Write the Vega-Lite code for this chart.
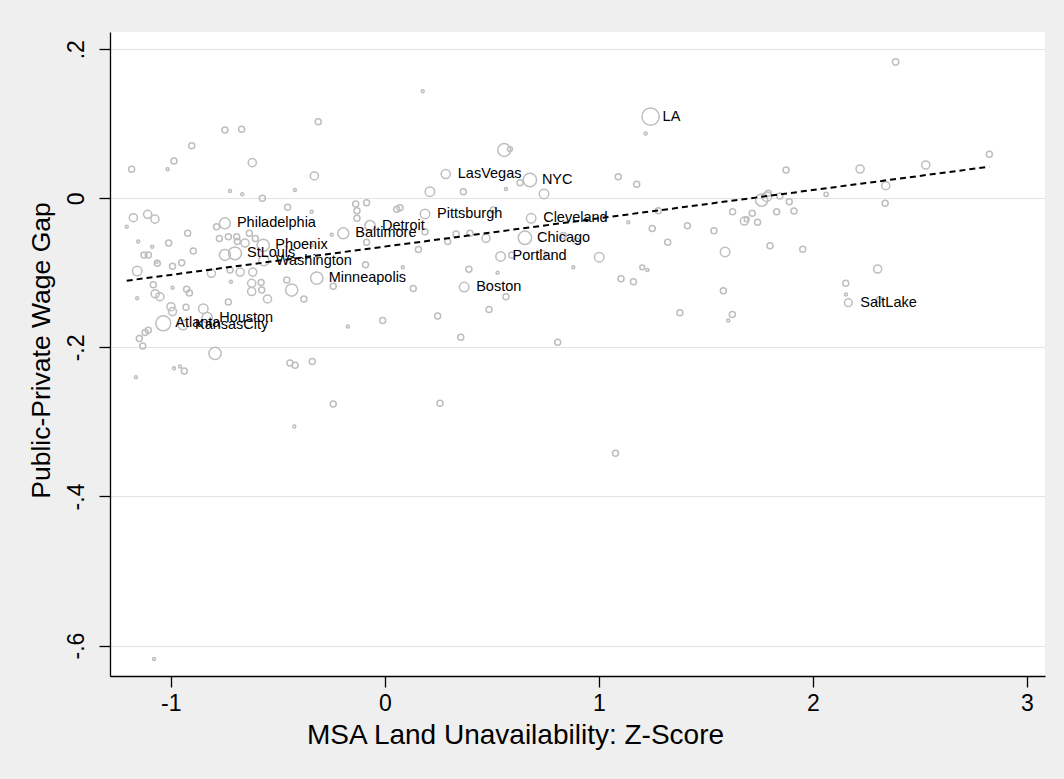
{
 "$schema": "https://vega.github.io/schema/vega-lite/v6.json",
 "width": 935,
 "height": 644,
 "autosize": {"type": "none"},
 "padding": {"left": 110, "top": 32, "right": 19, "bottom": 103},
 "background": "#efefef",
 "config": {"view": {"stroke": null, "fill": "#ffffff"}, "font": "Liberation Sans"},
 "datasets": {
  "msa": [
   {"unavail": 0.177, "gap": 0.1435, "weight": 3},
   {"unavail": -0.311, "gap": 0.1028, "weight": 12},
   {"unavail": 2.387, "gap": 0.183, "weight": 14},
   {"unavail": -0.747, "gap": 0.0916, "weight": 12},
   {"unavail": -0.669, "gap": 0.0925, "weight": 12},
   {"unavail": -0.902, "gap": 0.0706, "weight": 12},
   {"unavail": -0.985, "gap": 0.05, "weight": 12},
   {"unavail": -1.015, "gap": 0.039, "weight": 3},
   {"unavail": -1.183, "gap": 0.039, "weight": 12},
   {"unavail": -0.619, "gap": 0.0478, "weight": 22},
   {"unavail": -0.329, "gap": 0.03, "weight": 22},
   {"unavail": -0.723, "gap": 0.0098, "weight": 3},
   {"unavail": -0.666, "gap": 0.0054, "weight": 3},
   {"unavail": -0.42, "gap": 0.011, "weight": 3},
   {"unavail": -0.572, "gap": 0.0, "weight": 12},
   {"unavail": -0.454, "gap": -0.012, "weight": 12},
   {"unavail": -0.342, "gap": -0.018, "weight": 3},
   {"unavail": -0.136, "gap": -0.0076, "weight": 12},
   {"unavail": -0.085, "gap": -0.0058, "weight": 12},
   {"unavail": -0.13, "gap": -0.0166, "weight": 12},
   {"unavail": -0.13, "gap": -0.0268, "weight": 12},
   {"unavail": 0.056, "gap": -0.0148, "weight": 12},
   {"unavail": 0.071, "gap": -0.0125, "weight": 12},
   {"unavail": 1.219, "gap": 0.087, "weight": 3},
   {"unavail": 0.558, "gap": 0.0648, "weight": 55},
   {"unavail": 0.585, "gap": 0.066, "weight": 8},
   {"unavail": 0.744, "gap": 0.0058, "weight": 30},
   {"unavail": 0.632, "gap": 0.021, "weight": 12},
   {"unavail": 0.566, "gap": 0.0125, "weight": 3},
   {"unavail": 0.367, "gap": 0.0089, "weight": 12},
   {"unavail": 0.211, "gap": 0.0089, "weight": 30},
   {"unavail": 1.091, "gap": 0.029, "weight": 12},
   {"unavail": 1.177, "gap": 0.0188, "weight": 12},
   {"unavail": -1.175, "gap": -0.026, "weight": 22},
   {"unavail": -1.108, "gap": -0.0215, "weight": 22},
   {"unavail": -1.074, "gap": -0.028, "weight": 22},
   {"unavail": -1.206, "gap": -0.038, "weight": 3},
   {"unavail": -0.786, "gap": -0.038, "weight": 12},
   {"unavail": -0.921, "gap": -0.047, "weight": 12},
   {"unavail": -0.633, "gap": -0.047, "weight": 12},
   {"unavail": -0.692, "gap": -0.0515, "weight": 12},
   {"unavail": -0.773, "gap": -0.054, "weight": 12},
   {"unavail": -0.731, "gap": -0.0515, "weight": 12},
   {"unavail": -1.152, "gap": -0.058, "weight": 3},
   {"unavail": -1.087, "gap": -0.065, "weight": 3},
   {"unavail": -1.01, "gap": -0.06, "weight": 12},
   {"unavail": -0.895, "gap": -0.0707, "weight": 12},
   {"unavail": -1.125, "gap": -0.076, "weight": 12},
   {"unavail": -1.105, "gap": -0.076, "weight": 12},
   {"unavail": -0.605, "gap": -0.054, "weight": 12},
   {"unavail": -0.342, "gap": -0.063, "weight": 3},
   {"unavail": -0.085, "gap": -0.059, "weight": 12},
   {"unavail": -1.063, "gap": -0.087, "weight": 12},
   {"unavail": -0.992, "gap": -0.091, "weight": 12},
   {"unavail": -0.949, "gap": -0.0865, "weight": 12},
   {"unavail": -1.157, "gap": -0.0975, "weight": 30},
   {"unavail": -0.81, "gap": -0.1006, "weight": 22},
   {"unavail": -0.723, "gap": -0.096, "weight": 12},
   {"unavail": -0.676, "gap": -0.099, "weight": 22},
   {"unavail": -0.617, "gap": -0.099, "weight": 22},
   {"unavail": -0.241, "gap": -0.118, "weight": 12},
   {"unavail": -0.09, "gap": -0.089, "weight": 12},
   {"unavail": 0.084, "gap": -0.0925, "weight": 3},
   {"unavail": 0.133, "gap": -0.121, "weight": 12},
   {"unavail": -1.082, "gap": -0.116, "weight": 12},
   {"unavail": -1.051, "gap": -0.132, "weight": 22},
   {"unavail": -1.157, "gap": -0.134, "weight": 3},
   {"unavail": -0.992, "gap": -0.12, "weight": 3},
   {"unavail": -0.926, "gap": -0.122, "weight": 12},
   {"unavail": -0.913, "gap": -0.127, "weight": 12},
   {"unavail": -0.719, "gap": -0.112, "weight": 3},
   {"unavail": -0.622, "gap": -0.114, "weight": 22},
   {"unavail": -0.578, "gap": -0.113, "weight": 12},
   {"unavail": -0.575, "gap": -0.123, "weight": 12},
   {"unavail": -0.622, "gap": -0.125, "weight": 22},
   {"unavail": -0.548, "gap": -0.135, "weight": 22},
   {"unavail": -0.435, "gap": -0.123, "weight": 50},
   {"unavail": -0.378, "gap": -0.135, "weight": 12},
   {"unavail": -0.999, "gap": -0.1454, "weight": 22},
   {"unavail": -0.992, "gap": -0.152, "weight": 22},
   {"unavail": -0.929, "gap": -0.146, "weight": 12},
   {"unavail": -0.848, "gap": -0.148, "weight": 30},
   {"unavail": -0.731, "gap": -0.139, "weight": 12},
   {"unavail": -0.01, "gap": -0.164, "weight": 12},
   {"unavail": -0.173, "gap": -0.172, "weight": 3},
   {"unavail": 0.247, "gap": -0.158, "weight": 12},
   {"unavail": -1.105, "gap": -0.177, "weight": 12},
   {"unavail": -1.12, "gap": -0.18, "weight": 12},
   {"unavail": -1.147, "gap": -0.188, "weight": 12},
   {"unavail": -1.131, "gap": -0.198, "weight": 12},
   {"unavail": -0.793, "gap": -0.208, "weight": 50},
   {"unavail": -0.443, "gap": -0.221, "weight": 12},
   {"unavail": -0.419, "gap": -0.224, "weight": 12},
   {"unavail": -0.339, "gap": -0.219, "weight": 12},
   {"unavail": -0.985, "gap": -0.228, "weight": 3},
   {"unavail": -0.957, "gap": -0.2255, "weight": 3},
   {"unavail": -0.937, "gap": -0.2317, "weight": 12},
   {"unavail": -1.163, "gap": -0.24, "weight": 3},
   {"unavail": -0.241, "gap": -0.276, "weight": 12},
   {"unavail": 0.258, "gap": -0.275, "weight": 12},
   {"unavail": -0.423, "gap": -0.306, "weight": 3},
   {"unavail": 1.078, "gap": -0.342, "weight": 12},
   {"unavail": -1.078, "gap": -0.618, "weight": 3},
   {"unavail": 0.507, "gap": -0.0157, "weight": 12},
   {"unavail": 0.333, "gap": -0.048, "weight": 12},
   {"unavail": 0.398, "gap": -0.047, "weight": 12},
   {"unavail": 0.473, "gap": -0.0537, "weight": 22},
   {"unavail": 0.294, "gap": -0.058, "weight": 12},
   {"unavail": 0.157, "gap": -0.0687, "weight": 12},
   {"unavail": 0.188, "gap": -0.045, "weight": 12},
   {"unavail": 0.834, "gap": -0.05, "weight": 12},
   {"unavail": 0.897, "gap": -0.0572, "weight": 12},
   {"unavail": 0.593, "gap": -0.076, "weight": 12},
   {"unavail": 0.733, "gap": -0.076, "weight": 30},
   {"unavail": 1.002, "gap": -0.079, "weight": 30},
   {"unavail": 0.881, "gap": -0.0926, "weight": 3},
   {"unavail": 1.138, "gap": -0.032, "weight": 3},
   {"unavail": 1.25, "gap": -0.0405, "weight": 12},
   {"unavail": 1.278, "gap": -0.0166, "weight": 12},
   {"unavail": 1.414, "gap": -0.0367, "weight": 12},
   {"unavail": 1.322, "gap": -0.059, "weight": 12},
   {"unavail": 0.393, "gap": -0.095, "weight": 12},
   {"unavail": 0.527, "gap": -0.0998, "weight": 3},
   {"unavail": 0.566, "gap": -0.132, "weight": 12},
   {"unavail": 0.487, "gap": -0.149, "weight": 12},
   {"unavail": 1.104, "gap": -0.108, "weight": 12},
   {"unavail": 1.162, "gap": -0.112, "weight": 12},
   {"unavail": 1.203, "gap": -0.0926, "weight": 8},
   {"unavail": 1.227, "gap": -0.0962, "weight": 3},
   {"unavail": 1.379, "gap": -0.1535, "weight": 12},
   {"unavail": 0.355, "gap": -0.1865, "weight": 12},
   {"unavail": 0.808, "gap": -0.193, "weight": 12},
   {"unavail": 1.875, "gap": 0.038, "weight": 12},
   {"unavail": 2.221, "gap": 0.0393, "weight": 22},
   {"unavail": 2.528, "gap": 0.0447, "weight": 22},
   {"unavail": 2.825, "gap": 0.059, "weight": 12},
   {"unavail": 2.341, "gap": 0.0169, "weight": 22},
   {"unavail": 2.338, "gap": -0.0067, "weight": 12},
   {"unavail": 2.062, "gap": 0.0054, "weight": 6},
   {"unavail": 1.761, "gap": -0.0023, "weight": 50},
   {"unavail": 1.785, "gap": 0.0022, "weight": 30},
   {"unavail": 1.792, "gap": 0.0067, "weight": 12},
   {"unavail": 1.846, "gap": 0.0031, "weight": 12},
   {"unavail": 1.89, "gap": -0.0045, "weight": 12},
   {"unavail": 1.912, "gap": -0.017, "weight": 12},
   {"unavail": 1.831, "gap": -0.018, "weight": 12},
   {"unavail": 1.717, "gap": -0.02, "weight": 12},
   {"unavail": 1.625, "gap": -0.018, "weight": 12},
   {"unavail": 1.68, "gap": -0.0305, "weight": 22},
   {"unavail": 1.691, "gap": -0.028, "weight": 8},
   {"unavail": 1.742, "gap": -0.0322, "weight": 12},
   {"unavail": 1.538, "gap": -0.0435, "weight": 12},
   {"unavail": 1.8, "gap": -0.0636, "weight": 12},
   {"unavail": 1.953, "gap": -0.0684, "weight": 12},
   {"unavail": 1.59, "gap": -0.072, "weight": 30},
   {"unavail": 2.303, "gap": -0.0948, "weight": 22},
   {"unavail": 2.154, "gap": -0.114, "weight": 12},
   {"unavail": 2.155, "gap": -0.129, "weight": 3},
   {"unavail": 2.311, "gap": -0.136, "weight": 12},
   {"unavail": 1.582, "gap": -0.124, "weight": 12},
   {"unavail": 1.624, "gap": -0.156, "weight": 12},
   {"unavail": 1.605, "gap": -0.164, "weight": 3},
   {"unavail": -1.066, "gap": -0.085, "weight": 3},
   {"unavail": -1.073, "gap": -0.128, "weight": 22},
   {"unavail": -0.689, "gap": -0.058, "weight": 12},
   {"unavail": -0.653, "gap": -0.06, "weight": 22},
   {"unavail": -0.747, "gap": -0.076, "weight": 40},
   {"unavail": -0.248, "gap": -0.049, "weight": 3},
   {"unavail": -0.458, "gap": -0.1096, "weight": 12},
   {"unavail": 1.242, "gap": 0.1095, "weight": 100, "city": "LA"},
   {"unavail": 0.285, "gap": 0.0326, "weight": 28, "city": "LasVegas"},
   {"unavail": 0.678, "gap": 0.0245, "weight": 60, "city": "NYC"},
   {"unavail": 0.188, "gap": -0.021, "weight": 30, "city": "Pittsburgh"},
   {"unavail": 0.684, "gap": -0.0268, "weight": 30, "city": "Cleveland"},
   {"unavail": 0.655, "gap": -0.0528, "weight": 60, "city": "Chicago"},
   {"unavail": 0.541, "gap": -0.078, "weight": 30, "city": "Portland"},
   {"unavail": 0.371, "gap": -0.119, "weight": 30, "city": "Boston"},
   {"unavail": -0.194, "gap": -0.047, "weight": 40, "city": "Baltimore"},
   {"unavail": -0.069, "gap": -0.0365, "weight": 35, "city": "Detroit"},
   {"unavail": -0.747, "gap": -0.0335, "weight": 40, "city": "Philadelphia"},
   {"unavail": -0.7, "gap": -0.0738, "weight": 55, "city": "StLouis"},
   {"unavail": -0.568, "gap": -0.063, "weight": 50, "city": "Phoenix"},
   {"unavail": -0.565, "gap": -0.0837, "weight": 35, "city": "Washington"},
   {"unavail": -0.318, "gap": -0.107, "weight": 50, "city": "Minneapolis"},
   {"unavail": -1.035, "gap": -0.1677, "weight": 75, "city": "Atlanta"},
   {"unavail": -0.943, "gap": -0.17, "weight": 30, "city": "KansasCity"},
   {"unavail": -0.83, "gap": -0.16, "weight": 35, "city": "Houston"},
   {"unavail": 2.166, "gap": -0.14, "weight": 20, "city": "SaltLake"}
  ],
  "fit": [
   {"unavail": -1.206, "gap": -0.1105},
   {"unavail": 2.825, "gap": 0.0424}
  ]
 },
 "encoding": {
  "x": {
   "field": "unavail", "type": "quantitative",
   "scale": {"domain": [-1.284, 3.085], "nice": false, "zero": false},
   "axis": {
    "values": [-1, 0, 1, 2, 3], "labelExpr": "datum.value + ''", "grid": false,
    "domainColor": "#000000", "domainWidth": 1.3, "tickColor": "#000000", "tickWidth": 1.3, "tickSize": 11,
    "labelFontSize": 23, "labelPadding": 5, "labelColor": "#000000", "labelFont": "Liberation Sans",
    "title": "MSA Land Unavailability: Z-Score", "titleFont": "Liberation Sans", "titleFontSize": 28,
    "titleFontWeight": "normal", "titleColor": "#000000", "titleX": 405, "titleY": 67,
    "titleBaseline": "alphabetic", "titleAlign": "center"
   }
  },
  "y": {
   "field": "gap", "type": "quantitative",
   "scale": {"domain": [-0.6408, 0.2231], "nice": false, "zero": false},
   "axis": {
    "values": [-0.6, -0.4, -0.2, 0, 0.2],
    "labelExpr": "datum.value == 0 ? '0' : replace(toString(datum.value), '0.', '.')",
    "grid": true, "gridColor": "#e3e3e3", "gridWidth": 1.2,
    "domainColor": "#000000", "domainWidth": 1.3, "tickColor": "#000000", "tickWidth": 1.3, "tickSize": 11,
    "labelAngle": -90, "labelAlign": "center", "labelBaseline": "bottom",
    "labelFontSize": 23, "labelPadding": 11, "labelColor": "#000000", "labelFont": "Liberation Sans",
    "title": "Public-Private Wage Gap", "titleFont": "Liberation Sans", "titleFontSize": 26.5,
    "titleFontWeight": "normal", "titleColor": "#000000", "titleAngle": -90,
    "titleX": -69, "titleY": 318, "titleAlign": "center", "titleBaseline": "middle"
   }
  }
 },
 "layer": [
  {
   "data": {"name": "msa"},
   "mark": {"type": "point", "shape": "circle", "filled": false, "stroke": "#bebebe", "strokeWidth": 1.5, "opacity": 1},
   "encoding": {
    "size": {"field": "weight", "type": "quantitative", "scale": {"domain": [0, 100], "range": [0, 300]}, "legend": null}
   }
  },
  {
   "data": {"name": "msa"},
   "transform": [{"filter": "datum.city != null"}],
   "mark": {"type": "text", "align": "left", "baseline": "middle", "dx": 12, "fontSize": 14.5, "font": "Liberation Sans", "color": "#000000"},
   "encoding": {"text": {"field": "city", "type": "nominal"}}
  },
  {
   "data": {"name": "fit"},
   "mark": {"type": "line", "color": "#000000", "strokeWidth": 2, "strokeDash": [6, 4]},
   "encoding": {}
  }
 ]
}
